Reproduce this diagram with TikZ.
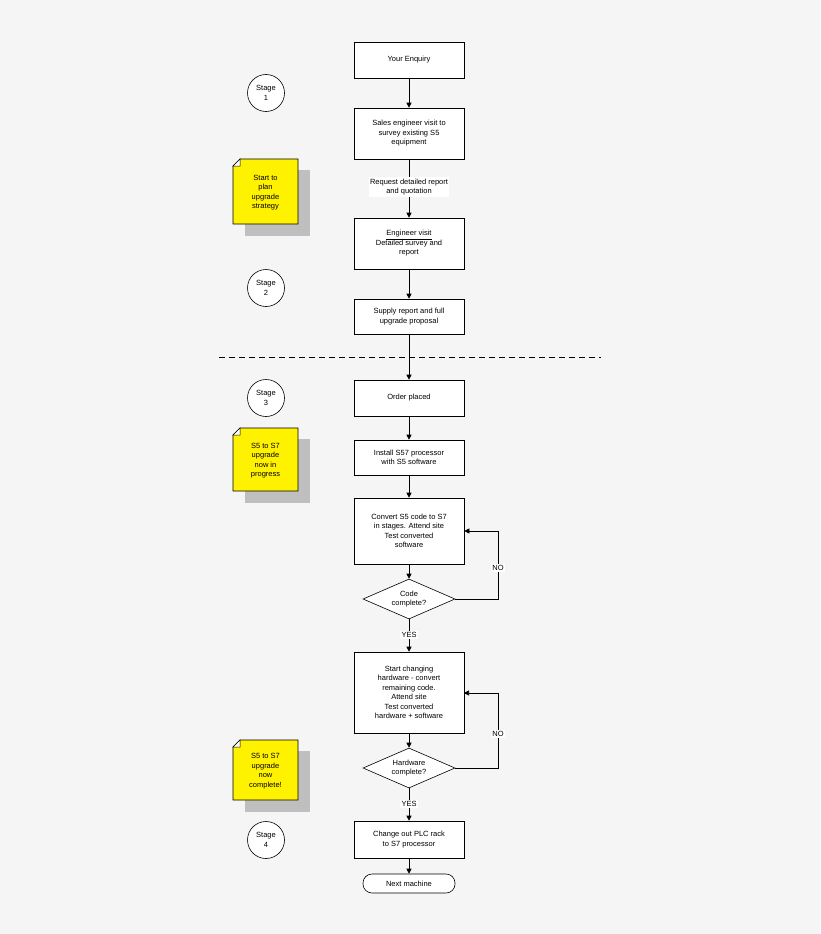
\documentclass[tikz,border=0pt]{standalone}
\usepackage{fontspec}
\setmainfont{Liberation Sans}
\usetikzlibrary{arrows.meta,shapes.geometric}
\begin{document}
\begin{tikzpicture}[x=1pt,y=-1pt,
 txt/.style={font=\fontsize{7.5}{9.5}\selectfont,align=center},
 box/.style={draw,fill=white,minimum width=110pt,inner sep=0pt,txt,line width=0.6pt},
 dia/.style={draw,fill=white,diamond,aspect=2.3,minimum width=92pt,minimum height=40pt,inner sep=0pt,txt,line width=0.6pt},
 arr/.style={-{Triangle[length=5pt,width=5pt]},line width=0.6pt},
 stage/.style={draw,circle,fill=white,minimum size=37pt,inner sep=0pt,txt,line width=0.6pt},
 lab/.style={fill=white,txt,inner sep=1.5pt}]
\fill[black!4] (0,0) rectangle (820,934);
\useasboundingbox (0,0) rectangle (820,934);
% boxes
\node[box,minimum height=36pt] (b1) at (409,60) {Your Enquiry};
\node[box,minimum height=51pt] (b2) at (409,133.5) {Sales engineer visit  to\\survey existing S5\\equipment};
\node[box,minimum height=51pt] (b3) at (409,243.5) {\underline{Engineer visit}\\Detailed survey and\\report};
\node[box,minimum height=35pt] (b4) at (409,316.5) {Supply report and full\\upgrade proposal};
\node[box,minimum height=36pt] (b5) at (409,398) {Order placed};
\node[box,minimum height=35pt] (b6) at (409,457.5) {Install S57 processor\\with S5 software};
\node[box,minimum height=66pt] (b7) at (409,531) {Convert S5 code to S7\\in stages. Attend site\\Test converted\\software};
\node[dia] (d1) at (409,599) {Code\\complete?};
\node[box,minimum height=81pt] (b8) at (409,692.5) {Start changing\\hardware - convert\\remaining code.\\Attend site\\Test converted\\hardware + software};
\node[dia] (d2) at (409,768) {Hardware\\complete?};
\node[box,minimum height=37pt] (b9) at (409,839.5) {Change out PLC rack\\to S7 processor};
\node[draw,fill=white,rounded corners=9pt,minimum width=92pt,minimum height=19pt,inner sep=0pt,txt,line width=0.6pt] (t) at (409,883.5) {Next machine};
% dashed line
\coordinate (dl) at (219,357); \coordinate (dr) at (601,357);
\draw[dashed,dash pattern=on 6pt off 4pt,line width=0.6pt] (dl) -- (dr);
% arrows
\draw[arr] (b1) -- (b2);
\draw[arr] (b2) -- (b3);
\node[lab] (q) at (409,187) {Request detailed report\\and quotation};
\draw[arr] (b3) -- (b4);
\draw[arr] (b4) -- (b5);
\draw[arr] (b5) -- (b6);
\draw[arr] (b6) -- (b7);
\draw[arr] (b7) -- (d1);
\draw[arr] (d1) -- (b8);
\node[lab] (y1) at (409,635) {YES};
\draw[arr] (b8) -- (d2);
\draw[arr] (d2) -- (b9);
\node[lab] (y2) at (409,804) {YES};
\draw[arr] (b9) -- (t);
\draw[arr] (d1.east) -- (498,599) -- (498,531) -- (b7.east);
\node[lab] (n1) at (498,568) {NO};
\draw[arr] (d2.east) -- (498,768) -- (498,693) -- (464,693);
\node[lab] (n2) at (498,734) {NO};
% stages
\node[stage] (s1) at (266,93) {Stage\\1};
\node[stage] (s2) at (266,288) {Stage\\2};
\node[stage] (s3) at (266,398) {Stage\\3};
\node[stage] (s4) at (266,840) {Stage\\4};
% sticky notes
\foreach \n/\t/\b/\txt in {n1/159/224/{Start to\\plan\\upgrade\\strategy},n2/428/491/{S5 to S7\\upgrade\\now in\\progress},n3/740/800/{S5 to S7\\upgrade\\now\\complete!}}{
 \fill[black!25] (245,\t+11) rectangle (310,\b+12);
 \draw[fill=yellow,line width=0.6pt] (240,\t) -- (298,\t) -- (298,\b) -- (233,\b) -- (233,\t+7) -- cycle;
 \draw[fill=white,line width=0.5pt] (233,\t+7) -- (240,\t+7) -- (240,\t) -- cycle;
 \node[txt] at (265.5,{(\t+\b)/2+1}) {\txt};
}
\end{tikzpicture}
\end{document}
